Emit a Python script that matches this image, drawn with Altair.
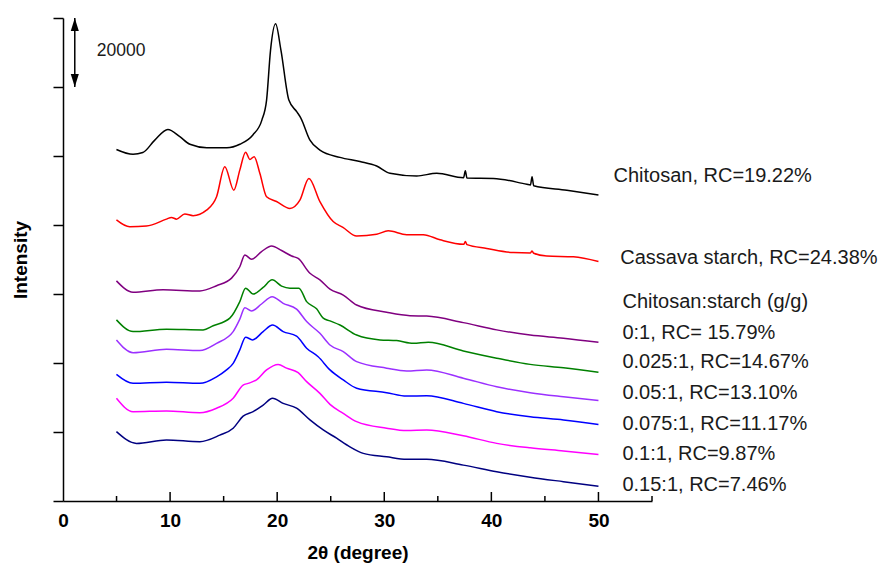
import altair as alt
import pandas as pd

FONT = "Liberation Sans"

# 2-theta (degree) and stacked intensity (counts) for each diffraction pattern
tt_chitosan = [4.99, 6.54, 7.45, 8.57, 9.79, 10.91, 11.85, 13.43, 15.3, 16.51, 17.73, 18.57,
               19.01, 19.38, 19.85, 20.35, 21.09, 21.84, 22.21, 23.06, 23.99, 25.86, 27.73,
               29.29, 30.53, 33.03, 34.9, 37.4, 37.57, 37.72, 40.19, 43.31, 43.65, 43.8, 43.95,
               47.05, 50.0]
int_chitosan = [101900, 100500, 101000, 104600, 107700, 105600, 103400, 102400, 102400, 103400,
                106100, 110400, 116200, 130700, 138300, 130700, 116200, 112800, 111000, 104600,
                101700, 99600, 98400, 97100, 95000, 94200, 95000, 93700, 95700, 93600, 93500,
                91800, 91600, 94000, 91400, 90100, 88700]

tt_starch = [4.99, 6.23, 7.79, 9.66, 10.13, 10.6, 11.37, 12.15, 13.4, 14.34, 15.11, 15.95, 16.51,
             17.05, 17.45, 17.85, 18.38, 19.01, 19.94, 21.19, 22.12, 22.96, 23.99, 25.23, 26.14,
             27.42, 29.29, 30.37, 32.09, 33.64, 35.21, 37.42, 37.57, 37.72, 39.57, 42.06, 43.65,
             43.8, 43.95, 45.18, 47.66, 50.0]
int_starch = [81500, 79500, 79700, 81700, 82200, 81700, 83200, 82700, 84300, 88200, 96900, 90100,
              95900, 101100, 99000, 99800, 95000, 88200, 86800, 84800, 87200, 93500, 86800, 81000,
              79300, 76800, 77300, 78300, 77200, 77200, 75700, 74400, 75200, 74300, 73200, 72000,
              71900, 72500, 71800, 71000, 70800, 69400]

tt_0 = [4.99, 6.54, 9.35, 12.78, 14.34, 15.74, 16.51, 16.98, 17.61, 18.54, 19.48, 20.41, 21.35,
        21.96, 23.06, 23.99, 24.93, 26.17, 27.42, 30.22, 32.4, 33.96, 37.38, 40.5, 43.62, 46.73, 50.0]
int_0 = [63800, 60500, 61200, 60900, 62400, 64600, 67900, 71300, 70100, 72300, 73900, 72600, 71000,
         70300, 66000, 64100, 61400, 59700, 56800, 54700, 53700, 53600, 51700, 49600, 48100, 47200, 46000]

tt_0025 = [4.99, 6.54, 9.66, 13.08, 14.02, 15.58, 16.51, 17.05, 17.76, 18.69, 19.53, 20.41, 21.19,
           22.03, 22.75, 23.68, 24.3, 24.93, 25.86, 27.42, 29.6, 31.16, 32.71, 34.11, 37.38, 40.5,
           43.62, 46.73, 50.0]
int_0025 = [52500, 49100, 49800, 49600, 50800, 53000, 57800, 61700, 60000, 61900, 64100, 62300,
            61700, 61700, 57800, 55700, 53000, 52200, 51000, 48100, 46700, 46500, 45700, 46000,
            43500, 41400, 39600, 38600, 37300]

tt_005 = [4.99, 6.54, 9.66, 12.78, 14.34, 15.89, 16.51, 16.98, 17.61, 18.54, 19.53, 20.56, 21.81,
          22.75, 23.99, 24.93, 26.17, 27.42, 30.22, 32.09, 33.96, 37.38, 40.5, 43.62, 46.73, 50.0]
int_005 = [46700, 43000, 44000, 43600, 45700, 49100, 52700, 56000, 55100, 57100, 59200, 57300,
           55600, 52000, 48600, 45200, 43300, 40400, 38500, 37700, 38000, 35600, 33100, 31400,
           30200, 29100]

tt_0075 = [4.99, 6.54, 9.66, 12.78, 14.34, 15.27, 15.89, 16.51, 17.05, 17.7, 18.69, 19.57, 20.56,
           21.81, 22.75, 23.83, 24.93, 26.17, 27.42, 30.22, 32.09, 33.96, 37.38, 40.5, 43.62,
           46.73, 50.0]
int_0075 = [36700, 34100, 34400, 34100, 36000, 38000, 39900, 43800, 47500, 46700, 49100, 51000,
            49100, 47800, 44300, 41800, 38000, 35100, 32700, 31400, 30400, 30500, 28300, 25900,
            24400, 23500, 22200]

tt_01 = [4.99, 6.54, 9.66, 12.78, 14.34, 15.89, 16.82, 17.29, 18.07, 19.01, 20.09, 20.88, 21.96,
         22.75, 23.99, 24.93, 26.17, 27.42, 30.22, 32.09, 33.96, 37.38, 40.5, 43.62, 46.73, 50.0]
int_01 = [29800, 25900, 26100, 25600, 26900, 29800, 33600, 34100, 35100, 38000, 39600, 38500,
          37200, 34600, 31200, 28000, 25400, 23000, 21100, 20400, 20600, 18900, 16700, 15400,
          14500, 13500]

tt_015 = [4.99, 6.86, 9.66, 12.78, 14.64, 15.89, 16.82, 17.76, 18.69, 19.57, 20.56, 21.81, 23.06,
          24.3, 25.55, 26.79, 28.04, 30.22, 32.09, 33.96, 37.38, 40.5, 43.62, 46.73, 50.0]
int_015 = [20100, 16700, 17700, 17200, 19100, 21100, 24600, 25900, 27800, 29800, 28300, 26900,
           23500, 20600, 18200, 15700, 13800, 12800, 12100, 12100, 10400, 8500, 6900, 5600, 4300]

series_names = ["Chitosan", "Cassava starch", "0:1", "0.025:1", "0.05:1", "0.075:1", "0.1:1", "0.15:1"]
series_colors = ["#000000", "#ff0000", "#800080", "#008000", "#9b30ff", "#0000ff", "#ff00ff", "#000080"]
series_tt = [tt_chitosan, tt_starch, tt_0, tt_0025, tt_005, tt_0075, tt_01, tt_015]
series_int = [int_chitosan, int_starch, int_0, int_0025, int_005, int_0075, int_01, int_015]

# curve labels on the right
label_texts = ["Chitosan, RC=19.22%", "Cassava starch, RC=24.38%", "Chitosan:starch (g/g)",
               "0:1, RC= 15.79%", "0.025:1, RC=14.67%", "0.05:1, RC=13.10%",
               "0.075:1, RC=11.17%", "0.1:1, RC=9.87%", "0.15:1, RC=7.46%"]
label_tt = [51.4, 52.03, 52.24, 52.24, 52.24, 52.24, 52.24, 52.24, 52.24]
label_int = [94300, 70300, 57800, 48800, 40200, 31200, 22200, 13500, 4600]

# intensity scale bar
bar_tt = [1.1]
bar_top = [140000]
bar_bottom = [120000]
bar_text = ["20000"]
bar_text_tt = [3.15]
bar_text_int = [130400]

x_major = [10, 20, 30, 40, 50]
x_minor = [5, 15, 25, 35, 45, 55]

rows = []
for name, xs, ys in zip(series_names, series_tt, series_int):
    for a, b in zip(xs, ys):
        rows.append({"series": name, "two_theta": a, "intensity": b})
curves = pd.DataFrame(rows)

x_scale = alt.Scale(domain=[0, 55], nice=False, zero=False)
y_scale = alt.Scale(domain=[0, 140000], nice=False)

x_axis = alt.Axis(values=[0, 10, 20, 30, 40, 50], tickSize=0, grid=False, labelFlush=False,
                  labelFont=FONT, labelFontSize=19, labelFontWeight="bold", labelColor="black",
                  labelPadding=10, domainColor="black", domainWidth=1.5,
                  title="2θ (degree)", titleFont=FONT, titleFontSize=19, titleFontWeight="bold",
                  titleColor="black", titlePadding=13)
y_axis = alt.Axis(values=list(range(0, 140001, 20000)), labels=False, tickSize=10, tickWidth=1.5,
                  tickColor="black", grid=False, domainColor="black", domainWidth=1.5,
                  title="Intensity", titleFont=FONT, titleFontSize=19, titleFontWeight="bold",
                  titleColor="black", titlePadding=22)

lines = alt.Chart(curves).mark_line(strokeWidth=1.5, interpolate="monotone").encode(
    x=alt.X("two_theta:Q", scale=x_scale, axis=x_axis),
    y=alt.Y("intensity:Q", scale=y_scale, axis=y_axis),
    color=alt.Color("series:N", scale=alt.Scale(domain=series_names, range=series_colors), legend=None),
    detail="series:N",
)

major_ticks = alt.Chart(pd.DataFrame({"t": x_major})).mark_rule(color="black", strokeWidth=1.5).encode(
    x=alt.X("t:Q", scale=x_scale), y=alt.value(483), y2=alt.value(474))
minor_ticks = alt.Chart(pd.DataFrame({"t": x_minor})).mark_rule(color="black", strokeWidth=1.5).encode(
    x=alt.X("t:Q", scale=x_scale), y=alt.value(483), y2=alt.value(478))

labels = alt.Chart(pd.DataFrame({"text": label_texts, "tt": label_tt, "inten": label_int})).mark_text(
    align="left", baseline="middle", font=FONT, fontSize=20, color="#1a1a1a").encode(
    x=alt.X("tt:Q", scale=x_scale), y=alt.Y("inten:Q", scale=y_scale), text="text:N")

bar_df = pd.DataFrame({"tt": bar_tt, "top": bar_top, "bottom": bar_bottom})
bar = alt.Chart(bar_df).mark_rule(color="black", strokeWidth=1.5).encode(
    x=alt.X("tt:Q", scale=x_scale), y=alt.Y("top:Q", scale=y_scale), y2="bottom:Q")
head_up = alt.Chart(bar_df).mark_point(shape="M0,0L0.31,1L-0.31,1Z", filled=True, size=676,
                                         color="black", opacity=1).encode(
    x=alt.X("tt:Q", scale=x_scale), y=alt.Y("top:Q", scale=y_scale))
head_down = alt.Chart(bar_df).mark_point(shape="M0,0L0.31,-1L-0.31,-1Z", filled=True, size=676,
                                           color="black", opacity=1).encode(
    x=alt.X("tt:Q", scale=x_scale), y=alt.Y("bottom:Q", scale=y_scale))
bar_label = alt.Chart(pd.DataFrame({"text": bar_text, "tt": bar_text_tt, "inten": bar_text_int})).mark_text(
    align="left", baseline="middle", font=FONT, fontSize=17.5, color="#1a1a1a").encode(
    x=alt.X("tt:Q", scale=x_scale), y=alt.Y("inten:Q", scale=y_scale), text="text:N")

chart = alt.layer(lines, major_ticks, minor_ticks, labels, bar, head_up, head_down, bar_label).properties(
    width=589, height=483,
    autosize=alt.AutoSizeParams(type="none"),
    padding={"left": 63, "right": 234, "top": 18, "bottom": 66},
    background="white",
).configure_view(stroke=None)

chart.save("out.html", embed_options={"renderer": "svg", "actions": False})
